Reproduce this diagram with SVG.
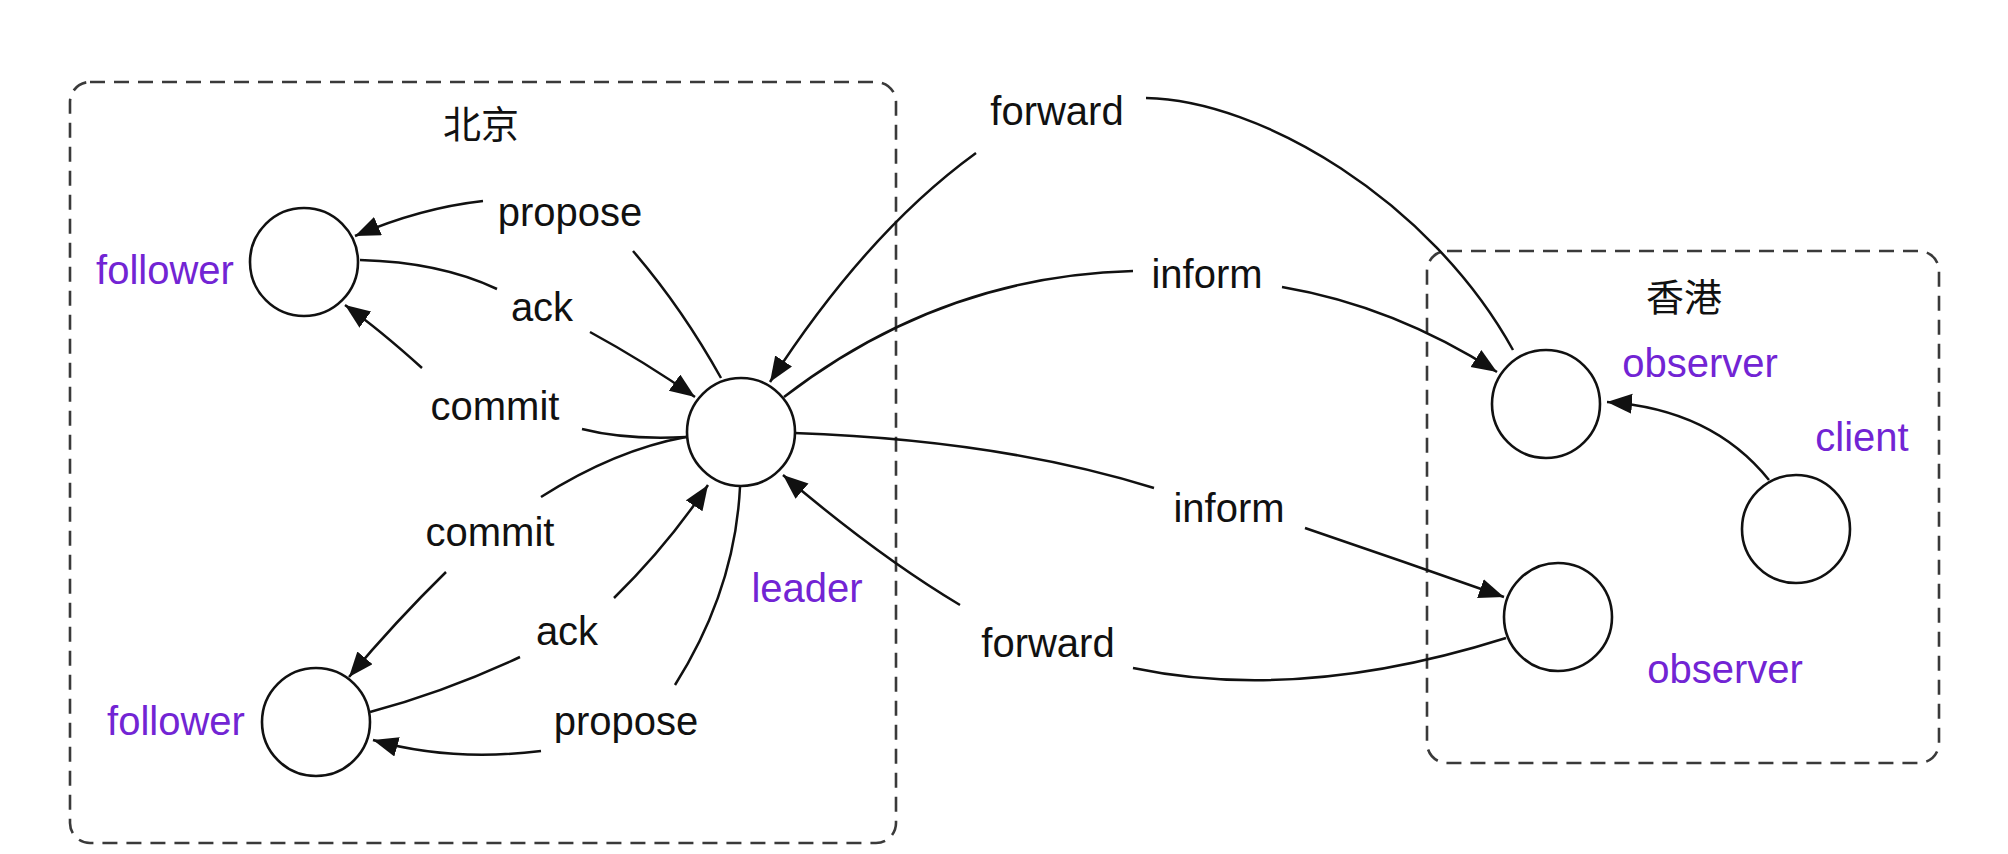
<svg xmlns="http://www.w3.org/2000/svg" width="2008" height="854" viewBox="0 0 2008 854">
<style>
.region{fill:none;stroke:#3a3a3a;stroke-width:2.6;stroke-dasharray:15 9}
.node{fill:#fff;stroke:#111;stroke-width:2.6}
.edge{fill:none;stroke:#111;stroke-width:2.5}
.arr{marker-end:url(#ah)}
.lbl{font-family:"Liberation Sans",Arial,sans-serif;font-size:40px;fill:#111;text-anchor:middle}
.role{font-family:"Liberation Sans",Arial,sans-serif;font-size:40px;fill:#7224d4;text-anchor:middle}
.title{font-family:"Noto Sans CJK SC","Noto Sans",sans-serif;font-size:38px;fill:#111;text-anchor:middle}
</style>
<defs>
<marker id="ah" markerUnits="userSpaceOnUse" markerWidth="28" markerHeight="22" refX="25" refY="10" orient="auto">
<path d="M0,0 L25,10 L0,20 z" fill="#111"/>
</marker>
</defs>
<rect width="2008" height="854" fill="#fff"/>

<g id="region-beijing">
<rect class="region" x="70" y="82" width="826" height="761" rx="20"/>
<text class="title" x="481" y="138">北京</text>
</g>
<g id="region-hongkong">
<rect class="region" x="1427" y="251" width="512" height="512" rx="20"/>
<text class="title" x="1684" y="311">香港</text>
</g>

<g id="connectors">
<path class="edge arr" d="M483,201 Q420,208 355,236"/>
<path class="edge" d="M633,251 Q682,308 721,378"/>
<path class="edge" d="M360,260 Q440,262 497,289"/>
<path class="edge arr" d="M590,332 Q645,362 695,397"/>
<path class="edge arr" d="M422,368 Q380,330 345,305"/>
<path class="edge" d="M582,429 Q625,440 686,437"/>
<path class="edge" d="M686,437 Q615,450 541,497"/>
<path class="edge arr" d="M446,572 Q395,622 349,677"/>
<path class="edge" d="M370,712 Q445,692 520,657"/>
<path class="edge arr" d="M614,598 Q668,545 708,485"/>
<path class="edge" d="M740,487 Q735,590 675,685"/>
<path class="edge arr" d="M541,751 Q450,762 373,740"/>
<path class="edge arr" d="M976,153 Q867,232 770,382"/>
<path class="edge" d="M1146,98 C1260,100 1430,200 1513,350"/>
<path class="edge" d="M784,397 Q941,276 1133,271"/>
<path class="edge arr" d="M1282,287 Q1394,306 1497,372"/>
<path class="edge arr" d="M1769,480 Q1712,409 1607,402"/>
<path class="edge" d="M794,433 Q1000,440 1154,488"/>
<path class="edge arr" d="M1305,528 Q1405,562 1504,597"/>
<path class="edge" d="M1506,638 Q1300,703 1133,668"/>
<path class="edge arr" d="M960,605 Q878,556 783,475"/>
</g>

<g id="edge-labels">
<text class="lbl" x="570" y="226">propose</text>
<text class="lbl" x="542" y="321">ack</text>
<text class="lbl" x="495" y="420">commit</text>
<text class="lbl" x="490" y="546">commit</text>
<text class="lbl" x="567" y="645">ack</text>
<text class="lbl" x="626" y="735">propose</text>
<text class="lbl" x="1057" y="125">forward</text>
<text class="lbl" x="1207" y="288">inform</text>
<text class="lbl" x="1229" y="522">inform</text>
<text class="lbl" x="1048" y="657">forward</text>
</g>

<g id="follower-1">
<circle class="node" cx="304" cy="262" r="54"/>
<text class="role" x="165" y="284">follower</text>
</g>
<g id="follower-2">
<circle class="node" cx="316" cy="722" r="54"/>
<text class="role" x="176" y="735">follower</text>
</g>
<g id="leader">
<circle class="node" cx="741" cy="432" r="54"/>
<text class="role" x="807" y="602">leader</text>
</g>
<g id="observer-1">
<circle class="node" cx="1546" cy="404" r="54"/>
<text class="role" x="1700" y="377">observer</text>
</g>
<g id="observer-2">
<circle class="node" cx="1558" cy="617" r="54"/>
<text class="role" x="1725" y="683">observer</text>
</g>
<g id="client">
<circle class="node" cx="1796" cy="529" r="54"/>
<text class="role" x="1862" y="451">client</text>
</g>
</svg>
